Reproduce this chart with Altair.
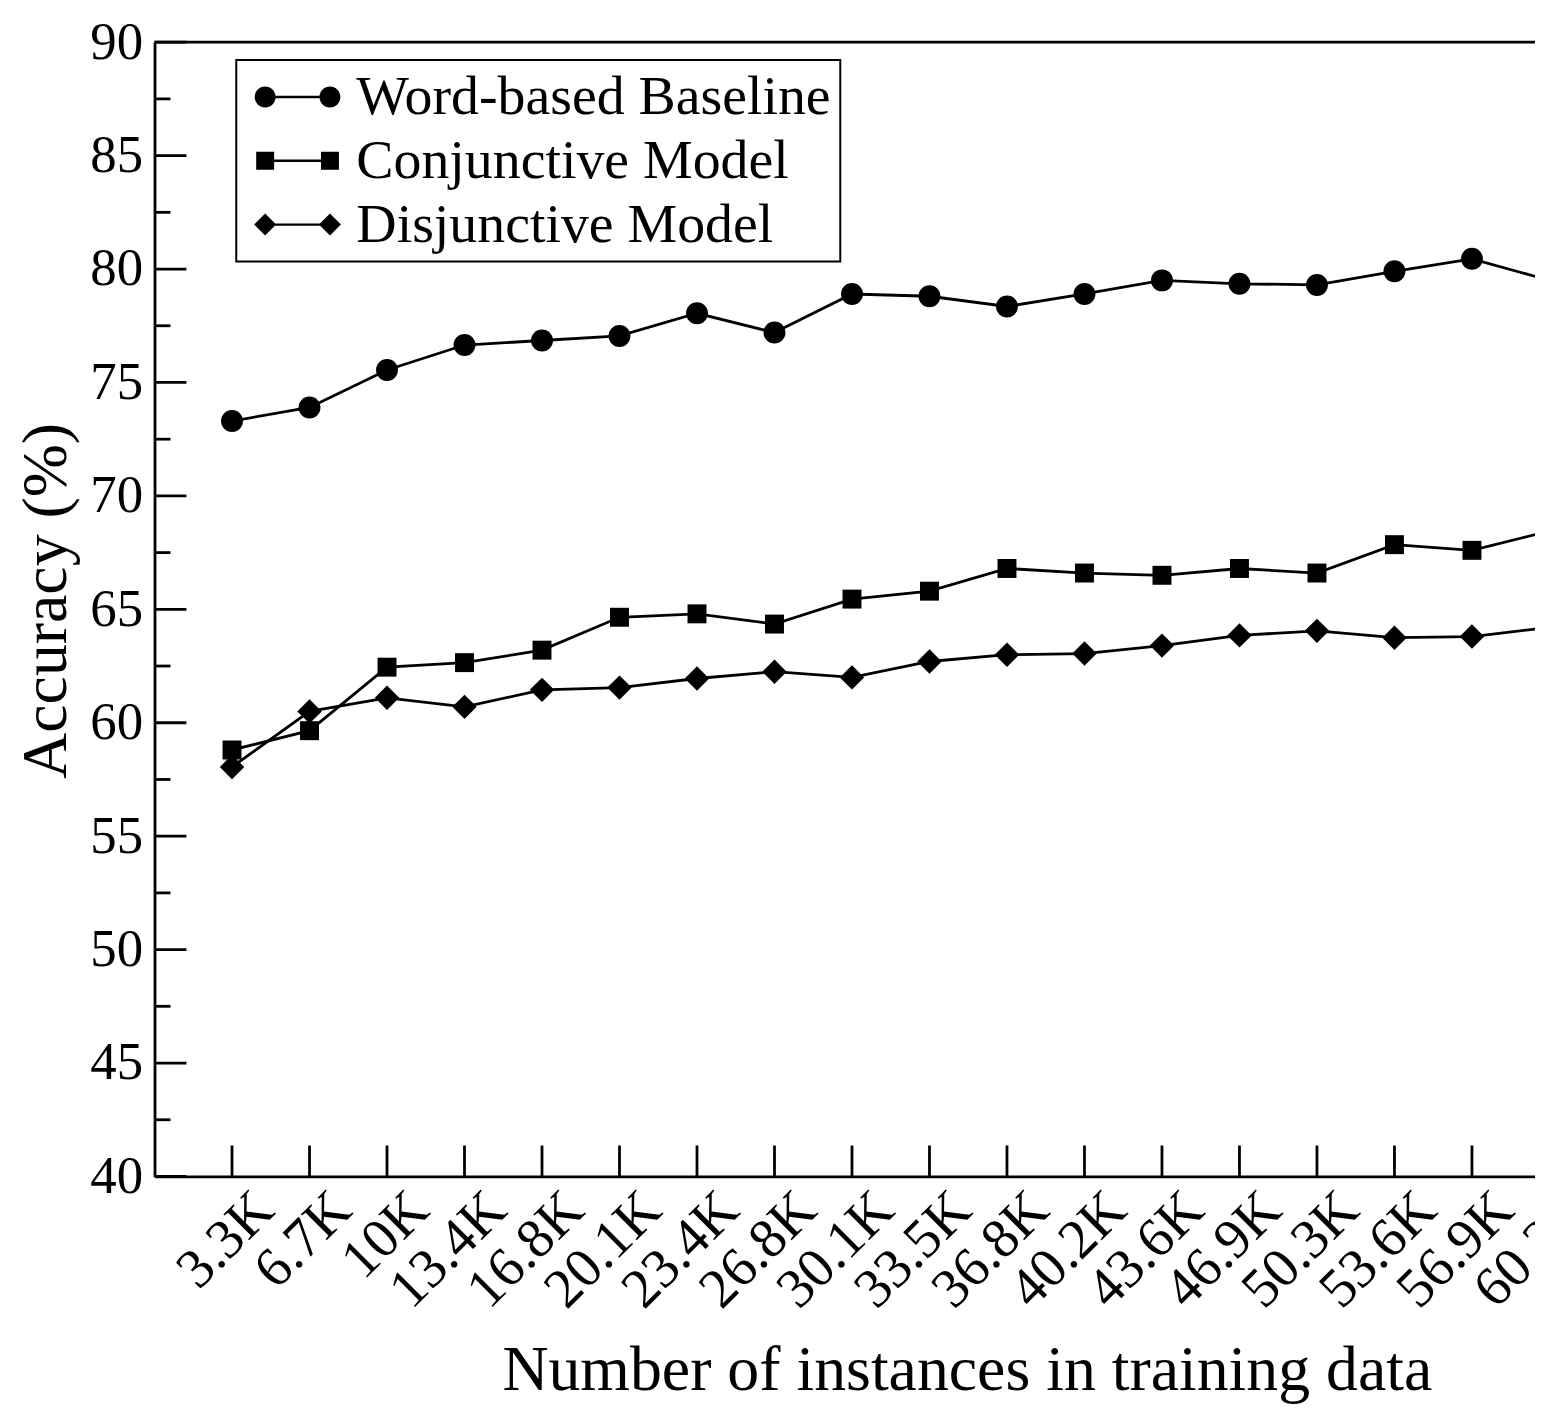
import altair as alt
import pandas as pd

# ---------------- data ----------------
categories = ["3.3K", "6.7K", "10K", "13.4K", "16.8K", "20.1K", "23.4K", "26.8K",
              "30.1K", "33.5K", "36.8K", "40.2K", "43.6K", "46.9K", "50.3K",
              "53.6K", "56.9K", "60.3K"]
series_names = ["Word-based Baseline", "Conjunctive Model", "Disjunctive Model"]
word_based = [73.3, 73.9, 75.55, 76.65, 76.85, 77.05, 78.05, 77.2, 78.9, 78.8,
              78.35, 78.9, 79.5, 79.35, 79.3, 79.9, 80.45, 79.5]
conjunctive = [58.8, 59.65, 62.45, 62.65, 63.2, 64.65, 64.8, 64.35, 65.45, 65.8,
               66.8, 66.6, 66.5, 66.8, 66.6, 67.85, 67.6, 68.45]
disjunctive = [58.05, 60.5, 61.1, 60.7, 61.45, 61.55, 61.95, 62.25, 62.0, 62.7,
               63.0, 63.05, 63.4, 63.85, 64.05, 63.75, 63.8, 64.2]
y_major_ticks = [40, 45, 50, 55, 60, 65, 70, 75, 80, 85, 90]
y_minor_ticks = [42.5, 47.5, 52.5, 57.5, 62.5, 67.5, 72.5, 77.5, 82.5, 87.5]

# ---------------- layout / style ----------------
FONT = "Liberation Serif"
TOP = 32
W, H = 1385, 1138
STEP = 77.75
XMAX = W / STEP
LW = 2.8
YTICK_FONT = 53
XTICK_FONT = 56
XLAB_PAD = 5
XLAB_OFF = 13

positions = list(range(1, len(categories) + 1))
rows = []
for name, vals in zip(series_names, [word_based, conjunctive, disjunctive]):
    for p, c, v in zip(positions, categories, vals):
        rows.append({"series": name, "pos": p, "label": c, "value": v})
df = pd.DataFrame(rows)
cat_df = pd.DataFrame({"pos": positions, "label": categories})
major_df = pd.DataFrame({"value": y_major_ticks})
minor_df = pd.DataFrame({"value": y_minor_ticks})
one_df = pd.DataFrame({"a": [0]})

x_scale = alt.Scale(domain=[0, XMAX], nice=False, zero=False)
y_scale = alt.Scale(domain=[40, 90], nice=False, zero=False)

label_expr = "[" + ",".join("'%s'" % c for c in categories) + "][round(datum.value) - 1]"

x_axis = alt.Axis(
    values=positions, labelExpr=label_expr,
    title="Number of instances in training data",
    ticks=False, grid=False, domainColor="black", domainWidth=LW,
    labelFont=FONT, labelFontSize=XTICK_FONT, labelColor="black",
    labelAngle=315, labelAlign="right", labelBaseline="top",
    labelPadding=XLAB_PAD, labelOffset=XLAB_OFF, labelOverlap=False, labelFlush=False,
    titleFont=FONT, titleFontSize=64, titleColor="black", titleFontWeight="normal",
    titleX=815, titleY=214, titleAlign="center", titleBaseline="alphabetic",
)
y_axis = alt.Axis(
    values=y_major_ticks, title="Accuracy (%)",
    ticks=False, grid=False, domainColor="black", domainWidth=LW,
    labelFont=FONT, labelFontSize=YTICK_FONT, labelColor="black", labelPadding=12,
    labelOverlap=False, labelFlush=False,
    titleFont=FONT, titleFontSize=64, titleColor="black", titleFontWeight="normal",
    titleX=-89, titleY=600 - 8 - TOP, titleAngle=270, titleAlign="center",
    titleBaseline="alphabetic",
)

X = alt.X("pos:Q", scale=x_scale, axis=x_axis)
Y = alt.Y("value:Q", scale=y_scale, axis=y_axis)

lines = alt.Chart(df).mark_line(color="black", strokeWidth=LW, clip=True).encode(
    x=X, y=Y, detail="series:N",
)

shapes = ["circle", "square", "diamond"]
sizes = [484, 361, 600]
point_layers = []
for name, sh, sz in zip(series_names, shapes, sizes):
    point_layers.append(
        alt.Chart(df).transform_filter(alt.datum.series == name)
        .mark_point(shape=sh, size=sz, filled=True, color="black", opacity=1, clip=True)
        .encode(x=X, y=Y)
    )

# legend symbols: marker - bar - marker (all filled, unit = 10 px)
cx = 3.25
bar = 0.12
r = 1.05
circle_path = (
    f"M {-cx - r} 0 A {r} {r} 0 1 0 {-cx + r} 0 A {r} {r} 0 1 0 {-cx - r} 0 Z "
    f"M {cx - r} 0 A {r} {r} 0 1 0 {cx + r} 0 A {r} {r} 0 1 0 {cx - r} 0 Z "
    f"M {-cx + r} {-bar} L {cx - r} {-bar} L {cx - r} {bar} L {-cx + r} {bar} Z"
)
s = 0.9
square_path = (
    f"M {-cx - s} {-s} L {-cx + s} {-s} L {-cx + s} {s} L {-cx - s} {s} Z "
    f"M {cx - s} {-s} L {cx + s} {-s} L {cx + s} {s} L {cx - s} {s} Z "
    f"M {-cx + s} {-bar} L {cx - s} {-bar} L {cx - s} {bar} L {-cx + s} {bar} Z"
)
d = 1.1
diamond_path = (
    f"M {-cx - d} 0 L {-cx} {-d} L {-cx + d} 0 L {-cx} {d} Z "
    f"M {cx - d} 0 L {cx} {-d} L {cx + d} 0 L {cx} {d} Z "
    f"M {-cx + d - 0.1} {-bar} L {cx - d + 0.1} {-bar} L {cx - d + 0.1} {bar} L {-cx + d - 0.1} {bar} Z"
)

legend_layer = alt.Chart(df).mark_point(
    filled=True, color="black", clip=True
).encode(
    x=X, y=Y,
    shape=alt.Shape(
        "series:N",
        scale=alt.Scale(domain=series_names, range=[circle_path, square_path, diamond_path]),
        legend=alt.Legend(
            title=None, orient="none", legendX=82, legendY=60 - 8 - TOP - 2,
            direction="vertical",
            fillColor="white", strokeColor="black", padding=9, cornerRadius=0,
            labelFont=FONT, labelFontSize=56, labelColor="black", labelLimit=0,
            labelOffset=31, symbolOffset=24.5, symbolSize=400,
            symbolFillColor="black", symbolStrokeWidth=0,
            symbolOpacity=1, rowPadding=8,
        ),
    ),
    opacity=alt.value(0),
)

major_ticks = alt.Chart(major_df).mark_rule(color="black", strokeWidth=LW).encode(
    y=Y, x=alt.value(0), x2=alt.value(32)
)
minor_ticks = alt.Chart(minor_df).mark_rule(color="black", strokeWidth=LW).encode(
    y=Y, x=alt.value(0), x2=alt.value(16)
)
x_ticks = alt.Chart(cat_df).mark_rule(color="black", strokeWidth=LW, clip=True).encode(
    x=X, y=alt.value(H), y2=alt.value(H - 31)
)
top_border = alt.Chart(one_df).mark_rule(color="black", strokeWidth=LW).encode(
    x=alt.value(0), x2=alt.value(W), y=alt.value(0)
)
# category label that lies just past the visible right edge (partly shown)
edge_labels = alt.Chart(cat_df).transform_filter(alt.datum.pos > XMAX).mark_text(
    font=FONT, fontSize=XTICK_FONT, color="black", angle=315, align="right",
    baseline="top", dx=XLAB_OFF / 1.4142, dy=XLAB_OFF / 1.4142,
).encode(
    x=alt.X("pos:Q", scale=x_scale, axis=x_axis), y=alt.value(H + XLAB_PAD), text="label:N"
)

chart = alt.layer(
    lines, *point_layers, legend_layer, major_ticks, minor_ticks, x_ticks, top_border,
    edge_labels,
).properties(
    width=W, height=H,
    autosize=alt.AutoSizeParams(type="none"),
    padding={"left": 147, "top": TOP, "right": 0, "bottom": 228},
    background="white",
).configure(font=FONT).configure_view(strokeWidth=0).configure_legend(strokeWidth=2)

chart.save("out.html", embed_options={"renderer": "svg", "actions": False})
